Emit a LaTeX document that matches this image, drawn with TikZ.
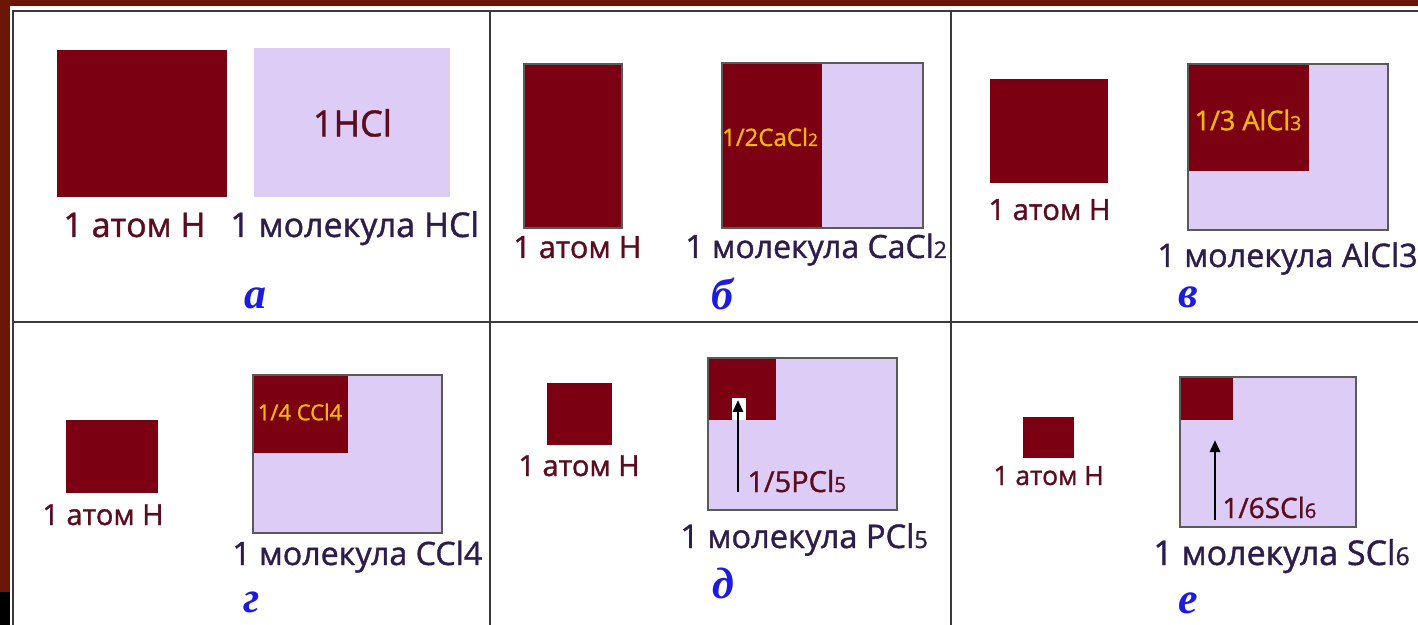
\documentclass[tikz,border=0pt]{standalone}
\usepackage{fontspec}
\setmainfont{Open Sans}[UprightFeatures={FakeBold=1.2}]
\newfontfamily\letterfont{Liberation Serif}
\usetikzlibrary{arrows.meta}
\definecolor{framered}{HTML}{6B1607}
\definecolor{atomfill}{HTML}{7A0012}
\definecolor{molfill}{HTML}{DDCCF6}
\definecolor{boxedge}{HTML}{5A5A5A}
\definecolor{gridline}{HTML}{3A3A3A}
\definecolor{atomtext}{HTML}{5C0C1E}
\definecolor{moltext}{HTML}{2E1C4C}
\definecolor{fractext}{HTML}{F2B705}
\definecolor{panelblue}{HTML}{1C1CE0}
\newcommand{\lowdig}[1]{\scalebox{0.72}{#1}}
\newcommand{\fs}[1]{\fontsize{#1}{#1}\selectfont}

\begin{document}
\begin{tikzpicture}[
  x=0.5pt, y=-0.5pt,
  hbox/.style={fill=atomfill, inner sep=0pt, anchor=north west},
  mbox/.style={fill=molfill, inner sep=0pt, anchor=north west},
  edged/.style={draw=boxedge, line width=1pt},
  atomlab/.style={anchor=base west, inner sep=0pt, text=atomtext, font=\fs{#1}},
  mollab/.style={anchor=base west, inner sep=0pt, text=moltext, font=\fs{#1}},
  fraclab/.style={inner sep=0pt, text=fractext, font=\fs{#1}},
  panel/.style={inner sep=0pt, text=panelblue, font=\letterfont\bfseries\itshape\fs{22}},
  ptr/.style={-{Triangle[width=5pt,length=6pt]}, line width=1.4pt, draw=black}
]
  \useasboundingbox (0,0) rectangle (1418,625);
  % frame and grid
  \fill[framered] (0,0) rectangle (1418,625);
  \fill[black] (0,592) rectangle (10,625);
  \fill[white] (10,6) rectangle (1418,625);
  \draw[gridline, line width=1pt] (13,625) -- (13,11) -- (1418,11);
  \draw[gridline, line width=1pt] (13,322) -- (1418,322);
  \draw[gridline, line width=1pt] (490,11) -- (490,625);
  \draw[gridline, line width=1pt] (951,11) -- (951,625);

  % a
  \node[hbox, minimum width=85pt, minimum height=73.5pt] (hA) at (57,50) {};
  \node[mbox, minimum width=98pt, minimum height=74.5pt, text=atomtext, font=\fs{18}] (mA) at (254,48) {1HCl};
  \node[atomlab=17] (lA) at (63,237) {1 атом Н};
  \node[mollab=17] (mlA) at (230,237) {1 молекула HCl};
  \node[panel] (pA) at (255,298) {а};

  % b
  \node[hbox, edged, minimum width=49pt, minimum height=82pt] (hB) at (523,63) {};
  \node[mbox, minimum width=100pt, minimum height=82pt] (mB) at (722,63) {};
  \node[hbox, minimum width=50pt, minimum height=82pt] (mBh) at (mB.north west) {};
  \draw[edged] (mB.north west) rectangle (mB.south east);
  \node[fraclab=12] (fB) at (770,137) {1/2CaCl\lowdig{2}};
  \node[atomlab=15.3] (lB) at (513,258) {1 атом Н};
  \node[mollab=16] (mlB) at (685,258) {1 молекула CaCl\lowdig{2}};
  \node[panel] (pB) at (722,294) {б};

  % v
  \node[hbox, minimum width=59pt, minimum height=52pt] (hC) at (990,79) {};
  \node[mbox, minimum width=99.5pt, minimum height=82.5pt] (mC) at (1188,64) {};
  \node[hbox, minimum width=60.5pt, minimum height=53.5pt] (mCh) at (mC.north west) {};
  \draw[edged] (mC.north west) rectangle (mC.south east);
  \node[fraclab=13.5] (fC) at (1248,120) {1/3 AlCl\lowdig{3}};
  \node[atomlab=14.6] (lC) at (988,220) {1 атом Н};
  \node[mollab=16.2] (mlC) at (1157,267) {1 молекула AlCl3};
  \node[panel] (pC) at (1188,297) {в};

  % g
  \node[hbox, minimum width=46pt, minimum height=36.5pt] (hD) at (66,420) {};
  \node[mbox, minimum width=94pt, minimum height=78.5pt] (mD) at (253,375) {};
  \node[hbox, minimum width=47.5pt, minimum height=39pt] (mDh) at (mD.north west) {};
  \draw[edged] (mD.north west) rectangle (mD.south east);
  \node[fraclab=11] (fD) at (300,412) {1/4 CCl4};
  \node[atomlab=14.5] (lD) at (42,525) {1 атом Н};
  \node[mollab=16.1] (mlD) at (232,565) {1 молекула CCl4};
  \node[panel] (pD) at (252,602) {г};

  % d
  \node[hbox, minimum width=32.5pt, minimum height=31pt] (hE) at (547,383) {};
  \node[mbox, minimum width=94pt, minimum height=75.5pt] (mE) at (708,358) {};
  \node[hbox, minimum width=34pt, minimum height=31pt] (mEh) at (mE.north west) {};
  \draw[edged] (mE.north west) rectangle (mE.south east);
  \fill[white] (732,398) rectangle (746,420);
  \coordinate (aE0) at (738,492);
  \coordinate (aE1) at (738,400);
  \draw[ptr] (aE0) -- (aE1);
  \node[anchor=base west, inner sep=0pt, text=atomtext, font=\fs{14.5}] (fE) at (747,492) {1/5PCl\lowdig{5}};
  \node[atomlab=14.5] (lE) at (518,476) {1 атом Н};
  \node[mollab=16.3] (mlE) at (680,548) {1 молекула PCl\lowdig{5}};
  \node[panel] (pE) at (723,583) {д};

  % e
  \node[hbox, minimum width=25.5pt, minimum height=20.5pt] (hF) at (1023,417) {};
  \node[mbox, minimum width=87.5pt, minimum height=74.5pt] (mF) at (1180,377) {};
  \node[hbox, minimum width=26.5pt, minimum height=21.5pt] (mFh) at (mF.north west) {};
  \draw[edged] (mF.north west) rectangle (mF.south east);
  \coordinate (aF0) at (1215,520);
  \coordinate (aF1) at (1215,440);
  \draw[ptr] (aF0) -- (aF1);
  \node[anchor=base west, inner sep=0pt, text=atomtext, font=\fs{14}] (fF) at (1222,518) {1/6SCl\lowdig{6}};
  \node[atomlab=13.2] (lF) at (993,485) {1 атом Н};
  \node[mollab=17] (mlF) at (1153,565) {1 молекула SCl\lowdig{6}};
  \node[panel] (pF) at (1188,603) {е};
\end{tikzpicture}
\end{document}
